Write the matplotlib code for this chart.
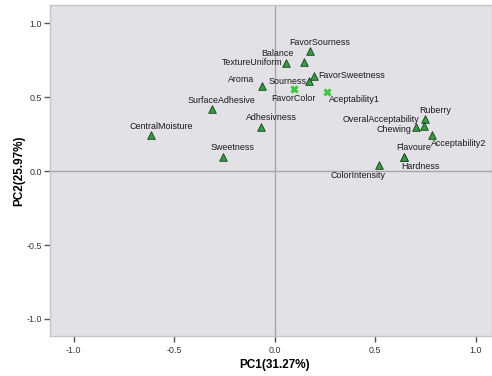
import matplotlib
matplotlib.use("Agg")
import matplotlib.pyplot as plt

plt.rcParams['font.family'] = ['Liberation Sans', 'DejaVu Sans']

# loadings (PC1, PC2)
tri_names = ['FavorSourness', 'Balance', 'TextureUniform', 'Aroma', 'FavorSweetness',
             'Sourness', 'SurfaceAdhesive', 'Adhesivness', 'CentralMoisture', 'Sweetness',
             'Ruberry', 'OveralAcceptability', 'Chewing', 'Acceptability2', 'Flavoure',
             'Hardness', 'ColorIntensity']
tri_pc1 = [0.176, 0.144, 0.056, -0.062, 0.197, 0.171, -0.312, -0.068, -0.615, -0.257,
           0.749, 0.743, 0.703, 0.781, 0.645, 0.645, 0.520]
tri_pc2 = [0.811, 0.734, 0.732, 0.574, 0.644, 0.606, 0.417, 0.299, 0.243, 0.097,
           0.351, 0.304, 0.299, 0.243, 0.097, 0.095, 0.039]

x_names = ['FavorColor', 'Aceptability1']
x_pc1 = [0.096, 0.262]
x_pc2 = [0.554, 0.536]

ticks = [-1.0, -0.5, 0.0, 0.5, 1.0]

# label placement (offset in pixels, horizontal alignment)
label_pos = {
    'FavorSourness': (10, 9, 'center'),
    'Balance': (-26, 9, 'center'),
    'TextureUniform': (-4, 0, 'right'),
    'Aroma': (-21, 7, 'center'),
    'FavorSweetness': (4, 0, 'left'),
    'Sourness': (-3, 0, 'right'),
    'SurfaceAdhesive': (9, 9, 'center'),
    'Adhesivness': (10, 9, 'center'),
    'CentralMoisture': (10, 9, 'center'),
    'Sweetness': (9, 9, 'center'),
    'Ruberry': (10, 9, 'center'),
    'OveralAcceptability': (-5, 7, 'right'),
    'Chewing': (-5, -3, 'right'),
    'Acceptability2': (27, -8, 'center'),
    'Flavoure': (9, 9, 'center'),
    'Hardness': (16, -10, 'center'),
    'ColorIntensity': (-21, -10, 'center'),
    'FavorColor': (-1, -9, 'center'),
    'Aceptability1': (27, -8, 'center'),
}

fig = plt.figure(figsize=(4.92, 3.76), dpi=100)
ax = fig.add_axes([50/492, 40/376, 442/492, 331/376])
ax.set_facecolor('#e1e1e6')
for s in ax.spines.values():
    s.set_color('#c4c4c4')
    s.set_linewidth(1.0)

# reference lines through the origin
ax.axhline(0, color='#a8a8a8', lw=1.0, zorder=1)
ax.axvline(0, color='#a8a8a8', lw=1.0, zorder=1)

ax.scatter(tri_pc1, tri_pc2, marker='^', s=30, c='#2ea03e', edgecolors='#1e3a1e',
           linewidths=0.6, zorder=3)
ax.scatter(x_pc1, x_pc2, marker='X', s=30, c='#3cc83c', edgecolors='#3cc83c',
           linewidths=0.3, zorder=3)

for n, x, y in zip(tri_names + x_names, tri_pc1 + x_pc1, tri_pc2 + x_pc2):
    dx, dy, ha = label_pos[n]
    ax.annotate(n, (x, y), xytext=(dx, dy), textcoords='offset pixels',
                ha=ha, va='center', fontsize=6.4, color='#1a1a1a', zorder=4)

ax.set_xlim(-1.118, 1.081)
ax.set_ylim(-1.115, 1.122)
ax.set_xticks(ticks)
ax.set_yticks(ticks)
ax.set_xticklabels(['%.1f' % t for t in ticks])
ax.set_yticklabels(['%.1f' % t for t in ticks])
ax.tick_params(axis='both', direction='out', length=4, width=1, color='#555555',
               labelsize=6.4, labelcolor='#333333', pad=2)
ax.tick_params(axis='x', pad=3)

ax.set_xlabel('PC1(31.27%)', fontsize=8.5, fontweight='bold')
ax.set_ylabel('PC2(25.97%)', fontsize=8.5, fontweight='bold')
ax.xaxis.set_label_coords(0.508, -0.069)
ax.yaxis.set_label_coords(-0.056, 0.498)

fig.savefig('out.png', dpi=100)
